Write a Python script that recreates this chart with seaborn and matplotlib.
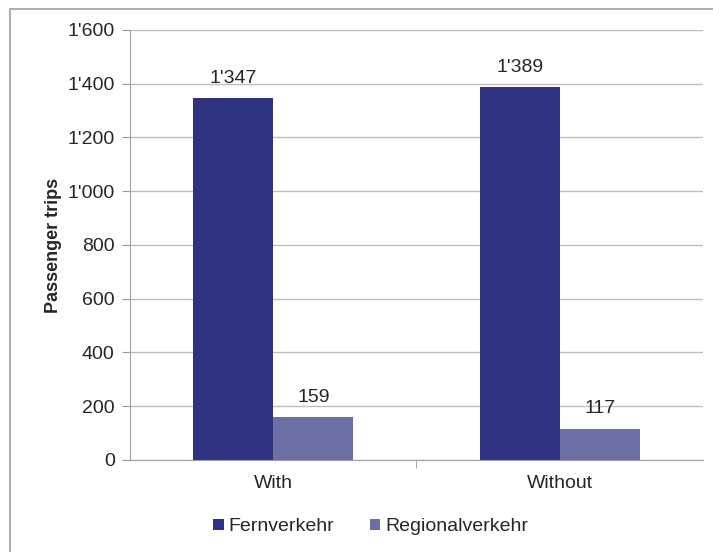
import pandas as pd
import matplotlib.pyplot as plt
import seaborn as sns
from matplotlib.patches import Rectangle

# data
scenarios = ['With', 'Without']
fernverkehr = [1347, 1389]
regionalverkehr = [159, 117]

df = pd.DataFrame({
    'Scenario': scenarios * 2,
    'Type': ['Fernverkehr'] * 2 + ['Regionalverkehr'] * 2,
    'Trips': fernverkehr + regionalverkehr,
})

sns.set_style('white')
plt.rcParams['font.family'] = ['Liberation Sans', 'DejaVu Sans']

fig = plt.figure(figsize=(7.13, 5.52), dpi=100)
ax = fig.add_axes([0.1823, 0.1667, 0.8037, 0.779])

g = sns.barplot(data=df, x='Scenario', y='Trips', hue='Type',
                palette=['#2E3280', '#6B6FA3'], width=0.56,
                saturation=1, linewidth=0, ax=ax)

for c in ax.containers:
    ax.bar_label(c, labels=[f"{v:,.0f}".replace(',', "'") for v in c.datavalues],
                 padding=8, fontsize=14)

ax.set_ylim(0, 1600)
ax.set_xlim(-0.5, 1.5)
ax.set_yticks(range(0, 1601, 200))
ax.set_yticklabels([f"{v:,}".replace(',', "'") for v in range(0, 1601, 200)], fontsize=14)
ax.tick_params(axis='y', length=6, color='#999999', pad=5, left=True)
ax.tick_params(axis='x', labelsize=14, length=0, pad=11)
ax.set_xticks([0.5], minor=True)
ax.tick_params(axis='x', which='minor', length=6, color='#999999', bottom=True)
ax.grid(axis='y', color='#BEBEBE', linewidth=1)
ax.set_axisbelow(True)
for s in ['top', 'right']:
    ax.spines[s].set_visible(False)
for s in ['left', 'bottom']:
    ax.spines[s].set_color('#A0A0A0')
ax.set_xlabel('')
ax.set_ylabel('Passenger trips', fontsize=13, fontweight='bold', labelpad=4)

ax.legend(loc='upper center', bbox_to_anchor=(0.42, -0.095), ncol=2,
          frameon=False, fontsize=14, handlelength=0.55, handleheight=0.55,
          handletextpad=0.25, columnspacing=1.8)

fig.patches.append(Rectangle((0.014, -0.01), 1.0, 0.994, transform=fig.transFigure,
                             fill=False, edgecolor='#A0A0A0', linewidth=1.2))

fig.savefig('out.png', dpi=100)
